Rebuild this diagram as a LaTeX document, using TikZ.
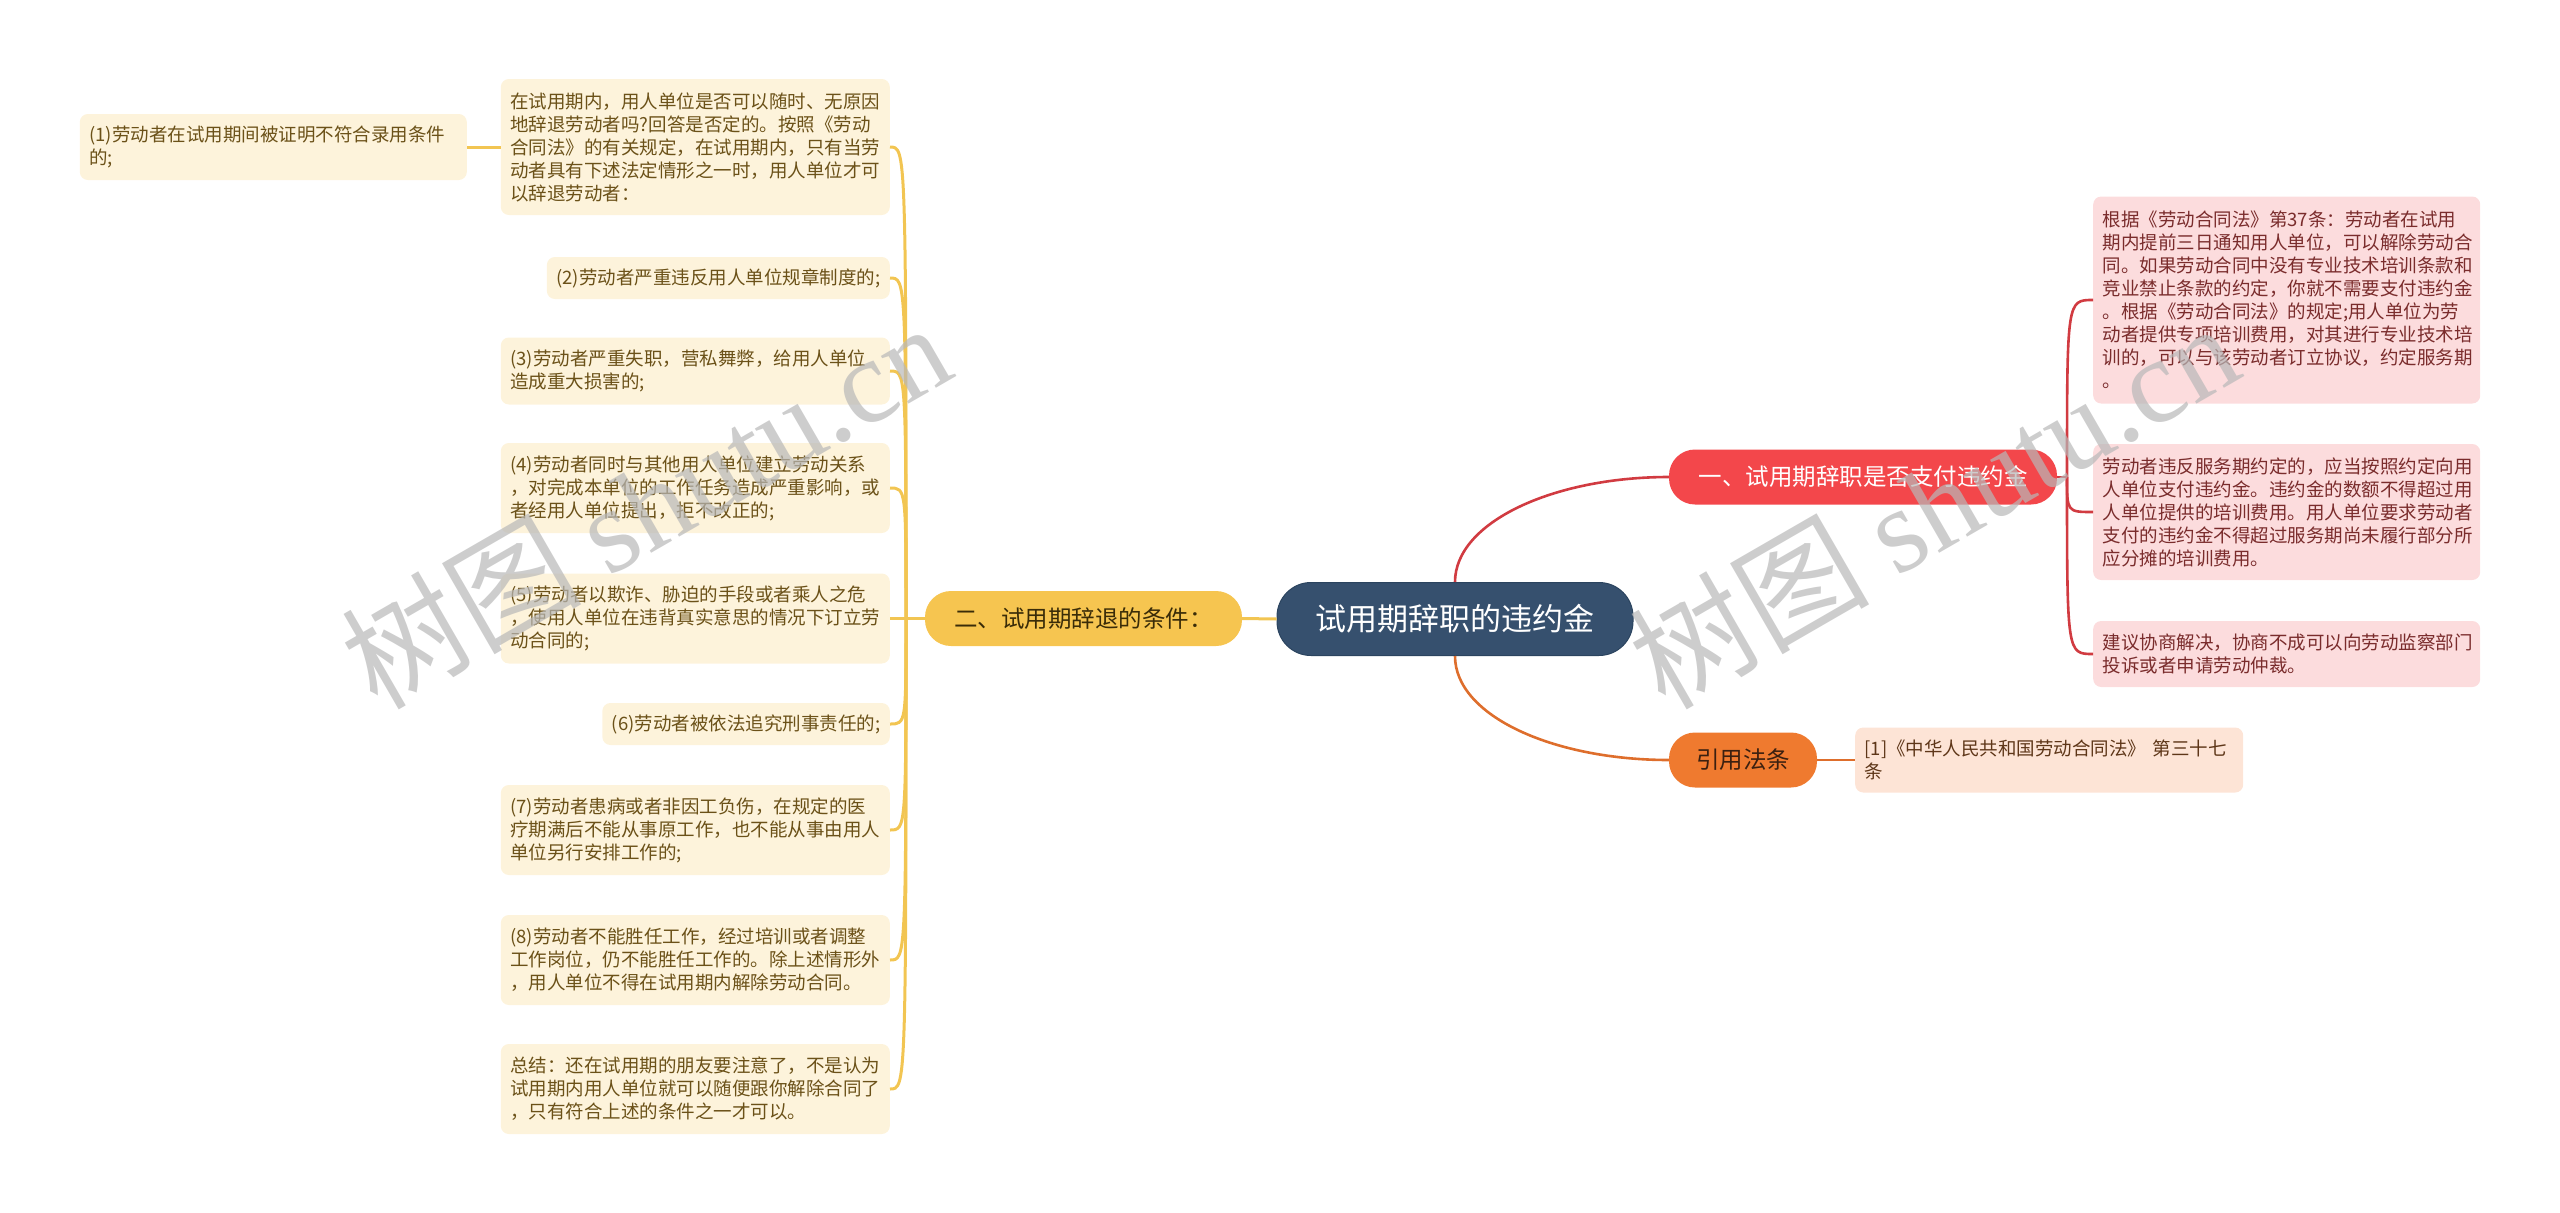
\documentclass[tikz,border=0pt]{standalone}
\usepackage{fontspec}
\setmainfont{Noto Sans CJK SC}
\newfontfamily\wmlatin{Liberation Serif}
\definecolor{cream}{HTML}{FDF3DB}
\definecolor{creamtext}{HTML}{6B5118}
\definecolor{ybranch}{HTML}{F6C550}
\definecolor{ylinkc}{HTML}{F2C552}
\definecolor{ybtext}{HTML}{3A2C08}
\definecolor{navy}{HTML}{36506E}
\definecolor{navyline}{HTML}{2B445F}
\definecolor{redb}{HTML}{F3474B}
\definecolor{redline}{HTML}{D13B41}
\definecolor{pinkfill}{HTML}{FCDCDD}
\definecolor{pinktext}{HTML}{7A2C2C}
\definecolor{orangeb}{HTML}{EF7A2F}
\definecolor{orangeline}{HTML}{DE6E2C}
\definecolor{peach}{HTML}{FDE4D6}
\definecolor{peachtext}{HTML}{5E3618}
\definecolor{obtext}{HTML}{3B2010}
\definecolor{wmgray}{HTML}{B8B8B8}
\begin{document}
\begin{tikzpicture}[x=1pt,y=-1pt,
  leafbase/.style={rounded corners=8, align=left, inner xsep=9.5, inner ysep=0,
    font=\fontsize{18.5}{23}\selectfont},
  leafY/.style={leafbase, fill=cream, text=creamtext},
  leafR/.style={leafbase, fill=pinkfill, text=pinktext},
  leafP/.style={leafbase, fill=peach, text=peachtext},
  wide/.style={text width=370},
  branchbase/.style={rounded corners=26, minimum height=55, inner xsep=0, inner ysep=0,
    align=center, font=\fontsize{23.5}{28}\selectfont},
  ylink/.style={draw=ylinkc, line width=3},
  rlink/.style={draw=redline, line width=2.6},
  olink/.style={draw=orangeline, line width=2.6},
  watermark/.style={text=wmgray, text opacity=0.7, rotate=30}
]
\useasboundingbox (0,0) rectangle (2560,1213);

% central topic
\node[fill=navy, draw=navyline, line width=1, rounded corners=34, minimum width=356, minimum height=73,
  inner sep=0, text=white, font=\fontsize{31}{36}\selectfont] (C) at (1455,619) {试用期辞职的违约金};

% main branches
\node[branchbase, fill=ybranch, text=ybtext, minimum width=317] (Y) at (1083.5,618.5) {二、试用期辞退的条件：};
\node[branchbase, fill=redb, text=white, minimum width=388] (R) at (1863,477) {一、试用期辞职是否支付违约金};
\node[branchbase, fill=orangeb, text=obtext, minimum width=148] (O) at (1743,760) {引用法条};

% left leaves
\node[leafY, wide, anchor=east, minimum height=136] (A0) at (890,147) {在试用期内，用人单位是否可以随时、无原因\\地辞退劳动者吗?回答是否定的。按照《劳动\\合同法》的有关规定，在试用期内，只有当劳\\动者具有下述法定情形之一时，用人单位才可\\以辞退劳动者：};
\node[leafY, text width=368, anchor=east, minimum height=66] (L1) at (467,147) {(1)劳动者在试用期间被证明不符合录用条件\\的;};
\node[leafY, anchor=east, minimum height=42] (L2) at (890,278) {(2)劳动者严重违反用人单位规章制度的;};
\node[leafY, wide, anchor=east, minimum height=67] (L3) at (890,371) {(3)劳动者严重失职，营私舞弊，给用人单位\\造成重大损害的;};
\node[leafY, wide, anchor=east, minimum height=90] (L4) at (890,488) {(4)劳动者同时与其他用人单位建立劳动关系\\，对完成本单位的工作任务造成严重影响，或\\者经用人单位提出，拒不改正的;};
\node[leafY, wide, anchor=east, minimum height=90] (L5) at (890,618.5) {(5)劳动者以欺诈、胁迫的手段或者乘人之危\\，使用人单位在违背真实意思的情况下订立劳\\动合同的;};
\node[leafY, anchor=east, minimum height=42] (L6) at (890,724) {(6)劳动者被依法追究刑事责任的;};
\node[leafY, wide, anchor=east, minimum height=90] (L7) at (890,830) {(7)劳动者患病或者非因工负伤，在规定的医\\疗期满后不能从事原工作，也不能从事由用人\\单位另行安排工作的;};
\node[leafY, wide, anchor=east, minimum height=90] (L8) at (890,960) {(8)劳动者不能胜任工作，经过培训或者调整\\工作岗位，仍不能胜任工作的。除上述情形外\\，用人单位不得在试用期内解除劳动合同。};
\node[leafY, wide, anchor=east, minimum height=90] (L9) at (890,1089) {总结：还在试用期的朋友要注意了，不是认为\\试用期内用人单位就可以随便跟你解除合同了\\，只有符合上述的条件之一才可以。};

% right leaves
\node[leafR, text width=368, anchor=west, minimum height=207] (R1) at (2093,300) {根据《劳动合同法》第37条：劳动者在试用\\期内提前三日通知用人单位，可以解除劳动合\\同。如果劳动合同中没有专业技术培训条款和\\竞业禁止条款的约定，你就不需要支付违约金\\。根据《劳动合同法》的规定;用人单位为劳\\动者提供专项培训费用，对其进行专业技术培\\训的，可以与该劳动者订立协议，约定服务期\\。};
\node[leafR, text width=368, anchor=west, minimum height=136] (R2) at (2093,512) {劳动者违反服务期约定的，应当按照约定向用\\人单位支付违约金。违约金的数额不得超过用\\人单位提供的培训费用。用人单位要求劳动者\\支付的违约金不得超过服务期尚未履行部分所\\应分摊的培训费用。};
\node[leafR, text width=368, anchor=west, minimum height=66] (R3) at (2093,654) {建议协商解决，协商不成可以向劳动监察部门\\投诉或者申请劳动仲裁。};
\node[leafP, text width=369, anchor=west, minimum height=65] (CT) at (1855,760) {[1]《中华人民共和国劳动合同法》 第三十七\\条};

% connectors
\draw[ylink] (C.west) -- (Y.east);
\draw[rlink] (C.north) .. controls +(0,-60) and +(-115,0) .. (R.west);
\draw[olink] (C.south) .. controls +(0,60) and +(-115,0) .. (O.west);
\draw[olink] (O.east) -- (CT.west);

\coordinate (JL) at (906,618.5);
\draw[ylink] (Y.west) -- (JL);
\foreach \n in {A0,L2,L3,L4,L5,L6,L7,L8,L9}{
  \draw[ylink] (JL) .. controls (JL |- \n.east) and (JL |- \n.east) .. (\n.east);
}
\draw[ylink] (A0.west) -- (L1.east);

\coordinate (JR) at (2067,477);
\draw[rlink] (R.east) -- (JR);
\foreach \n in {R1,R2,R3}{
  \draw[rlink] (JR) .. controls (JR |- \n.west) and (JR |- \n.west) .. (\n.west);
}

% watermarks
\node[watermark] (W1) at (645,504) {\fontsize{120}{125}\selectfont 树图 {\wmlatin shutu.cn}};
\node[watermark] (W2) at (1933,504) {\fontsize{120}{125}\selectfont 树图 {\wmlatin shutu.cn}};
\end{tikzpicture}
\end{document}
